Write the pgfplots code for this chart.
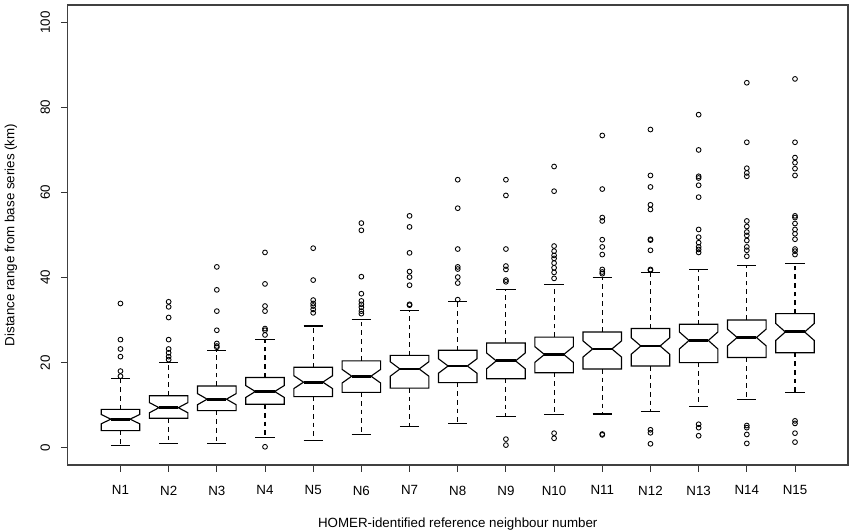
\documentclass[border=0pt]{standalone}
\usepackage{fontspec}
\setmainfont{Liberation Sans}
\usepackage{pgfplots}
\usepgfplotslibrary{statistics}
\pgfplotsset{compat=1.18}

% half height of the notch, given per box
\pgfkeys{/pgfplots/boxplot/notch/.initial=0}

\pgfplotsset{
  rbox/.style={
    black, line width=0.85pt, solid,
    mark=o, mark size=1.8pt, mark options={line width=0.65pt, solid},
    boxplot/draw direction=y,
    boxplot/box extend=0.8,
    boxplot/whisker extend=0.4,
    boxplot/draw/box/.code={%
      \pgfmathsetmacro\nlo{\pgfplotsboxplotvalue{median}-\pgfplotsboxplotvalue{notch}}%
      \pgfmathsetmacro\nhi{\pgfplotsboxplotvalue{median}+\pgfplotsboxplotvalue{notch}}%
      \draw
        (boxplot box cs:\pgfplotsboxplotvalue{lower quartile},0) --
        (boxplot box cs:\nlo,0) --
        (boxplot box cs:\pgfplotsboxplotvalue{median},0.25) --
        (boxplot box cs:\nhi,0) --
        (boxplot box cs:\pgfplotsboxplotvalue{upper quartile},0) --
        (boxplot box cs:\pgfplotsboxplotvalue{upper quartile},1) --
        (boxplot box cs:\nhi,1) --
        (boxplot box cs:\pgfplotsboxplotvalue{median},0.75) --
        (boxplot box cs:\nlo,1) --
        (boxplot box cs:\pgfplotsboxplotvalue{lower quartile},1) -- cycle;
    },
    boxplot/draw/median/.code={%
      \draw[line width=2.2pt]
        (boxplot box cs:\pgfplotsboxplotvalue{median},0.25) --
        (boxplot box cs:\pgfplotsboxplotvalue{median},0.75);
    },
    boxplot/draw/lower whisker/.code={%
      \draw[dash pattern=on 3.5pt off 3pt]
        (boxplot box cs:\pgfplotsboxplotvalue{lower quartile},0.5) --
        (boxplot box cs:\pgfplotsboxplotvalue{lower whisker},0.5);
      \draw
        (boxplot whisker cs:\pgfplotsboxplotvalue{lower whisker},0) --
        (boxplot whisker cs:\pgfplotsboxplotvalue{lower whisker},1);
    },
    boxplot/draw/upper whisker/.code={%
      \draw[dash pattern=on 3.5pt off 3pt]
        (boxplot box cs:\pgfplotsboxplotvalue{upper quartile},0.5) --
        (boxplot box cs:\pgfplotsboxplotvalue{upper whisker},0.5);
      \draw
        (boxplot whisker cs:\pgfplotsboxplotvalue{upper whisker},0) --
        (boxplot whisker cs:\pgfplotsboxplotvalue{upper whisker},1);
    },
  },
}

\begin{document}
\begin{tikzpicture}
\begin{axis}[
  scale only axis,
  width=585.4pt, height=345pt,
  xmin=-0.1, xmax=16.1,
  ymin=-4.08, ymax=104.08,
  axis line style={black!75, line width=0.9pt},
  xtick={1,...,15},
  xticklabels={N1,N2,N3,N4,N5,N6,N7,N8,N9,N10,N11,N12,N13,N14,N15},
  ytick={0,20,...,100},
  tick align=outside,
  tick pos=left,
  major tick length=5pt,
  tick style={black!80, line width=0.75pt},
  /pgf/number format/assume math mode=true,
  tick label style={font=\fontsize{10}{12}\selectfont},
  label style={font=\fontsize{10}{12}\selectfont},
  yticklabel style={rotate=90, anchor=south},
  xticklabel style={anchor=north},
  xticklabel shift=7pt,
  yticklabel shift=4.5pt,
  xlabel={HOMER-identified reference neighbour number},
  ylabel={Distance range from base series (km)},
  xlabel style={at={(axis description cs:0.5,-0.1348)}, anchor=base},
  ylabel style={at={(axis description cs:-0.068,0.5)}, anchor=base},
]
\addplot[rbox, boxplot prepared={draw position=1, lower whisker=0.5, lower quartile=4.0, median=6.7, upper quartile=9.0, upper whisker=16.3, notch=1.1}]
  coordinates {(0,33.9) (0,25.4) (0,23.2) (0,21.4) (0,18.0) (0,16.8)};
\addplot[rbox, boxplot prepared={draw position=2, lower whisker=1.0, lower quartile=6.9, median=9.4, upper quartile=12.2, upper whisker=20.1, notch=1.2}]
  coordinates {(0,34.3) (0,33.1) (0,30.6) (0,25.4) (0,23.2) (0,22.3) (0,21.4) (0,20.7)};
\addplot[rbox, boxplot prepared={draw position=3, lower whisker=1.0, lower quartile=8.7, median=11.4, upper quartile=14.5, upper whisker=22.8, notch=1.3}]
  coordinates {(0,42.5) (0,37.1) (0,32.1) (0,27.6) (0,24.5) (0,23.9) (0,23.6)};
\addplot[rbox, boxplot prepared={draw position=4, lower whisker=2.3, lower quartile=10.2, median=13.2, upper quartile=16.5, upper whisker=25.4, notch=1.4}]
  coordinates {(0,45.9) (0,38.5) (0,33.3) (0,32.1) (0,28.0) (0,27.6) (0,26.5) (0,0.2)};
\addplot[rbox, boxplot prepared={draw position=5, lower whisker=1.6, lower quartile=12.0, median=15.4, upper quartile=18.9, upper whisker=28.6, notch=1.5}]
  coordinates {(0,46.9) (0,39.4) (0,34.7) (0,33.9) (0,33.3) (0,32.5) (0,31.7)};
\addplot[rbox, boxplot prepared={draw position=6, lower whisker=3.1, lower quartile=13.0, median=16.8, upper quartile=20.4, upper whisker=30.2, notch=1.6}]
  coordinates {(0,52.8) (0,51.1) (0,40.2) (0,36.2) (0,34.5) (0,33.7) (0,33.0) (0,32.1) (0,31.5)};
\addplot[rbox, boxplot prepared={draw position=7, lower whisker=4.9, lower quartile=14.0, median=18.5, upper quartile=21.7, upper whisker=32.3, notch=1.7}]
  coordinates {(0,54.5) (0,51.9) (0,45.8) (0,41.4) (0,40.1) (0,38.2) (0,33.7) (0,33.5)};
\addplot[rbox, boxplot prepared={draw position=8, lower whisker=5.7, lower quartile=15.3, median=19.2, upper quartile=22.9, upper whisker=34.4, notch=1.7}]
  coordinates {(0,63.0) (0,56.3) (0,46.7) (0,42.5) (0,42.0) (0,40.1) (0,38.7) (0,34.8)};
\addplot[rbox, boxplot prepared={draw position=9, lower whisker=7.3, lower quartile=16.2, median=20.4, upper quartile=24.6, upper whisker=37.2, notch=1.85}]
  coordinates {(0,63.0) (0,59.3) (0,46.7) (0,42.7) (0,41.9) (0,39.4) (0,39.0) (0,2.0) (0,0.6)};
\addplot[rbox, boxplot prepared={draw position=10, lower whisker=7.7, lower quartile=17.6, median=21.9, upper quartile=26.0, upper whisker=38.4, notch=1.85}]
  coordinates {(0,66.1) (0,60.3) (0,47.4) (0,46.2) (0,45.2) (0,44.5) (0,43.4) (0,42.3) (0,41.2) (0,39.8) (0,3.4) (0,2.2)};
\addplot[rbox, boxplot prepared={draw position=11, lower whisker=7.9, lower quartile=18.5, median=23.2, upper quartile=27.2, upper whisker=40.0, notch=1.9}]
  coordinates {(0,73.4) (0,60.8) (0,54.1) (0,53.3) (0,48.9) (0,47.2) (0,45.4) (0,41.9) (0,41.3) (0,40.9) (0,3.2) (0,3.0)};
\addplot[rbox, boxplot prepared={draw position=12, lower whisker=8.6, lower quartile=19.2, median=23.9, upper quartile=28.0, upper whisker=41.2, notch=1.95}]
  coordinates {(0,74.8) (0,64.0) (0,61.3) (0,57.1) (0,56.0) (0,49.0) (0,48.8) (0,46.4) (0,41.9) (0,41.7) (0,4.2) (0,3.5) (0,0.9)};
\addplot[rbox, boxplot prepared={draw position=13, lower whisker=9.6, lower quartile=20.0, median=25.2, upper quartile=29.0, upper whisker=41.9, notch=2.0}]
  coordinates {(0,78.3) (0,70.0) (0,63.8) (0,63.4) (0,61.7) (0,58.9) (0,51.3) (0,49.5) (0,48.2) (0,47.2) (0,46.6) (0,45.9) (0,5.5) (0,4.7) (0,2.8)};
\addplot[rbox, boxplot prepared={draw position=14, lower whisker=11.4, lower quartile=21.2, median=25.9, upper quartile=30.0, upper whisker=42.9, notch=1.95}]
  coordinates {(0,85.8) (0,71.8) (0,65.7) (0,64.6) (0,63.8) (0,53.3) (0,52.0) (0,50.7) (0,49.9) (0,48.7) (0,47.2) (0,46.4) (0,45.0) (0,5.2) (0,4.7) (0,3.1) (0,1.0)};
\addplot[rbox, boxplot prepared={draw position=15, lower whisker=12.9, lower quartile=22.3, median=27.2, upper quartile=31.5, upper whisker=43.4, notch=2.0}]
  coordinates {(0,86.7) (0,71.8) (0,68.2) (0,67.0) (0,65.6) (0,64.0) (0,54.5) (0,54.1) (0,52.7) (0,51.3) (0,50.3) (0,49.0) (0,46.7) (0,46.2) (0,45.4) (0,6.3) (0,5.7) (0,3.4) (0,1.3)};
\end{axis}
\pgfresetboundingbox
\path ([shift={(-50.6pt,-50.25pt)}]current axis.south west)
  rectangle ([shift={(1.5pt,3.75pt)}]current axis.north east);
\end{tikzpicture}
\end{document}
